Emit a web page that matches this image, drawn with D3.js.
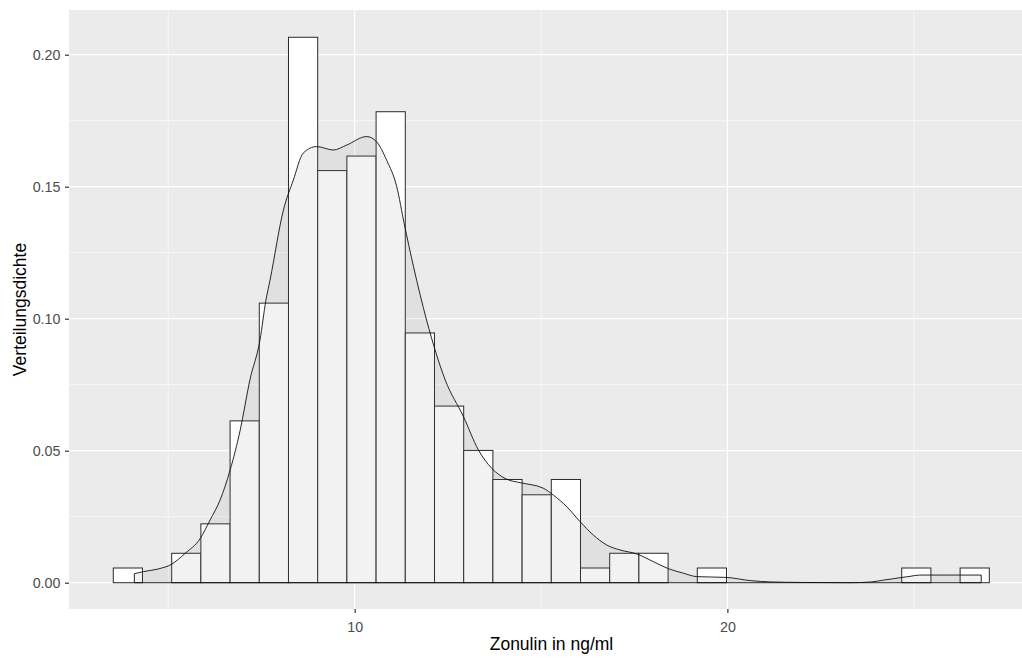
<!DOCTYPE html>
<html>
<head>
<meta charset="utf-8">
<script src="https://cdn.jsdelivr.net/npm/d3@7"></script>
<style>
  html, body { margin: 0; padding: 0; background: #ffffff; }
  svg { display: block; font-family: "Liberation Sans", Arial, sans-serif; }
</style>
</head>
<body>
<svg id="chart" width="1022" height="658"></svg>
<script>
// ---- data ----
const binWidth = 0.7834;
const firstBinLower = 3.525;
const binDensity = [0.00557, 0, 0.01115, 0.0223, 0.0613, 0.1059, 0.2066, 0.1561, 0.1616, 0.1784,
                    0.0946, 0.0669, 0.0501, 0.0391, 0.0333, 0.0391, 0.00557, 0.01115, 0.01115, 0,
                    0.00557, 0, 0, 0, 0, 0, 0, 0.00557, 0, 0.00557];
const densX = [4.09, 4.33, 4.73, 5.09, 5.45, 5.85, 6.12, 6.39, 6.66, 6.93, 7.19, 7.46, 7.62, 7.73,
               8.09, 8.355, 8.62, 8.98, 9.43, 9.79, 10.32, 10.59, 10.86, 11.13, 11.33, 11.58, 11.93,
               12.43, 12.92, 13.32, 13.68, 14.08, 14.44, 15.06, 15.33, 15.69, 16.05, 16.40, 16.76,
               17.12, 17.57, 18.01, 18.42, 18.82, 19.18, 19.98, 20.61, 21.15, 21.95, 23.29, 23.87,
               24.19, 24.45, 24.68, 24.90, 25.15, 25.98, 26.81];
const densY = [0.0034, 0.0042, 0.0052, 0.0070, 0.0111, 0.0166, 0.0237, 0.0313, 0.0427, 0.0578, 0.0768,
               0.0919, 0.1070, 0.1146, 0.1412, 0.1525, 0.1627, 0.1652, 0.1639, 0.1658, 0.1690, 0.1670,
               0.1600, 0.1500, 0.1360, 0.1197, 0.0995, 0.0768, 0.0629, 0.0503, 0.0433, 0.0392, 0.0379,
               0.0358, 0.0332, 0.0288, 0.0231, 0.0181, 0.0143, 0.0124, 0.0109, 0.0080, 0.0053, 0.0036,
               0.0023, 0.0020, 0.0008, 0.0003, 0.0001, 0.0000, 0.0003, 0.0010, 0.0015, 0.0020, 0.0024,
               0.0029, 0.0029, 0.0029];
const xTicks = [10, 20];
const xMinor = [5, 15, 25];
const yTicks = [0, 0.05, 0.10, 0.15, 0.20];
const yMinor = [0.025, 0.075, 0.125, 0.175];
const xTitle = "Zonulin in ng/ml";
const yTitle = "Verteilungsdichte";

// ---- layout ----
const svg = d3.select("#chart");
const panel = { left: 69, top: 10, right: 1034, bottom: 609 };

const x = d3.scaleLinear().domain([2.337, 28.226]).range([panel.left, panel.right]);
const y = d3.scaleLinear().domain([-0.00996, 0.21693]).range([panel.bottom, panel.top]);

svg.append("defs").append("clipPath").attr("id", "clip")
  .append("rect").attr("x", panel.left).attr("y", panel.top)
  .attr("width", panel.right - panel.left).attr("height", panel.bottom - panel.top);

const g = svg.append("g").attr("clip-path", "url(#clip)");

g.append("rect").attr("x", panel.left).attr("y", panel.top)
  .attr("width", panel.right - panel.left).attr("height", panel.bottom - panel.top)
  .attr("fill", "#ebebeb");

// minor grid
g.selectAll(".xminor").data(xMinor).join("line")
  .attr("x1", d => x(d)).attr("x2", d => x(d)).attr("y1", panel.top).attr("y2", panel.bottom)
  .attr("stroke", "#ffffff").attr("stroke-width", 0.6);
g.selectAll(".yminor").data(yMinor).join("line")
  .attr("y1", d => y(d)).attr("y2", d => y(d)).attr("x1", panel.left).attr("x2", panel.right)
  .attr("stroke", "#ffffff").attr("stroke-width", 0.6);
// major grid
g.selectAll(".xmajor").data(xTicks).join("line")
  .attr("x1", d => x(d)).attr("x2", d => x(d)).attr("y1", panel.top).attr("y2", panel.bottom)
  .attr("stroke", "#ffffff").attr("stroke-width", 1.2);
g.selectAll(".ymajor").data(yTicks).join("line")
  .attr("y1", d => y(d)).attr("y2", d => y(d)).attr("x1", panel.left).attr("x2", panel.right)
  .attr("stroke", "#ffffff").attr("stroke-width", 1.2);

// histogram
const bins = binDensity.map((d, i) => ({
  x0: firstBinLower + i * binWidth,
  x1: firstBinLower + (i + 1) * binWidth,
  d: d
}));
g.selectAll(".bar").data(bins).join("rect")
  .attr("x", d => x(d.x0)).attr("width", d => x(d.x1) - x(d.x0))
  .attr("y", d => y(d.d)).attr("height", d => y(0) - y(d.d))
  .attr("fill", "#ffffff").attr("stroke", "#2a2a2a").attr("stroke-width", 1);

// density
const pts = densX.map((v, i) => ({ x: v, y: densY[i] }));
const line = d3.line().x(d => x(d.x)).y(d => y(d.y)).curve(d3.curveMonotoneX);
const area = d3.area().x(d => x(d.x)).y0(y(0)).y1(d => y(d.y)).curve(d3.curveMonotoneX);
g.append("path").attr("d", area(pts))
  .attr("fill", "#7f7f7f").attr("fill-opacity", 0.1).attr("stroke", "none");
// outline of the full polygon (curve + vertical edges + baseline)
const first = pts[0], last = pts[pts.length - 1];
const outline = line(pts) + "L" + x(last.x) + "," + y(0) + "L" + x(first.x) + "," + y(0) + "Z";
g.append("path").attr("d", outline)
  .attr("fill", "none").attr("stroke", "#111").attr("stroke-width", 0.9);

// axes
const xAxis = svg.append("g").attr("transform", `translate(0,${panel.bottom})`)
  .call(d3.axisBottom(x).tickValues(xTicks).tickSize(4).tickPadding(3).tickFormat(d3.format("d")));
const yAxis = svg.append("g").attr("transform", `translate(${panel.left},0)`)
  .call(d3.axisLeft(y).tickValues(yTicks).tickSize(4).tickPadding(4.5).tickFormat(d3.format(".2f")));
[xAxis, yAxis].forEach(a => {
  a.attr("font-size", null).attr("font-family", null);
  a.select(".domain").remove();
  a.selectAll(".tick line").attr("stroke", "#333333").attr("stroke-width", 1.2);
  a.selectAll(".tick text").attr("fill", "#4d4d4d")
    .style("font-size", "14.3px").style("font-family", "'Liberation Sans', Arial, sans-serif");
});
xAxis.selectAll(".tick text").attr("dy", null).attr("y", 22.5);

svg.append("text").attr("x", (panel.left + panel.right) / 2).attr("y", 650)
  .attr("text-anchor", "middle").attr("fill", "#000")
  .style("font-size", "17.5px").text(xTitle);
svg.append("text").attr("transform", `translate(26,${(panel.top + panel.bottom) / 2}) rotate(-90)`)
  .attr("text-anchor", "middle").attr("fill", "#000")
  .style("font-size", "17.5px").text(yTitle);
</script>
</body>
</html>
